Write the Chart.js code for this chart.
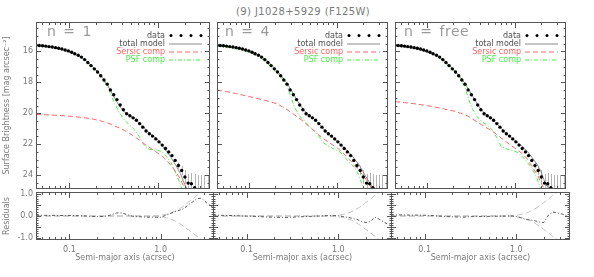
<!DOCTYPE html>
<html>
<head>
<meta charset="utf-8">
<title>J1028+5929 surface brightness profile</title>
<script src="https://cdn.jsdelivr.net/npm/chart.js@4.4.1/dist/chart.umd.min.js"></script>
<style>
  html, body { margin: 0; padding: 0; background: #fff; }
  #page { position: relative; width: 594px; height: 277px; overflow: hidden; font-family: "DejaVu Sans", sans-serif; }
  #page canvas { position: absolute; }
  #title { position: absolute; left: 36px; width: 534px; top: 6px; text-align: center; font-size: 10px; line-height: 12px; color: #7a7a7a; letter-spacing: 0.4px; }
  .tag { position: absolute; top: 24px; font-size: 14px; line-height: 14px; color: #9a9a9a; white-space: pre; letter-spacing: 0.5px; word-spacing: 2px; }
</style>
</head>
<body>
<div id="page">
  <div id="title">(9) J1028+5929 (F125W)</div>
  <canvas id="main1" width="214" height="175" style="left:0;top:18px"></canvas>
  <canvas id="main2" width="179" height="175" style="left:213px;top:18px"></canvas>
  <canvas id="main3" width="179" height="175" style="left:391px;top:18px"></canvas>
  <canvas id="res1" width="214" height="91" style="left:0;top:186px"></canvas>
  <canvas id="res2" width="179" height="91" style="left:213px;top:186px"></canvas>
  <canvas id="res3" width="179" height="91" style="left:391px;top:186px"></canvas>
  <div class="tag" style="left:47px">n = 1</div>
  <div class="tag" style="left:225px">n = 4</div>
  <div class="tag" style="left:404px">n = free</div>
</div>
<script>
// isophote radii (arcsec) and measured surface brightness
const radii = [0.0431, 0.0468, 0.0509, 0.0553, 0.0601, 0.0654, 0.0711, 0.0773, 0.0840, 0.0913,
  0.0993, 0.108, 0.117, 0.128, 0.139, 0.151, 0.164, 0.178, 0.194, 0.211,
  0.229, 0.249, 0.271, 0.294, 0.320, 0.348, 0.378, 0.411, 0.447, 0.486,
  0.528, 0.574, 0.625, 0.679, 0.738, 0.803, 0.873, 0.949, 1.031, 1.121,
  1.219, 1.325, 1.441, 1.566, 1.703, 1.851, 2.013, 2.188, 2.379, 2.587,
  2.812, 3.057, 3.324, 3.614];
const sbData = [15.61, 15.62, 15.64, 15.66, 15.69, 15.72, 15.76, 15.80, 15.85, 15.91,
  15.97, 16.06, 16.15, 16.25, 16.37, 16.53, 16.72, 16.92, 17.13, 17.33,
  17.58, 17.85, 18.12, 18.49, 18.80, 19.12, 19.47, 19.77, 20.03, 20.16,
  20.30, 20.45, 20.67, 20.90, 21.15, 21.33, 21.48, 21.66, 21.85, 22.06,
  22.28, 22.50, 22.74, 23.05, 23.38, 23.70, 24.12, 24.52, 24.56, 24.82,
  25.30, 25.70, 25.90, 26.10];
const sbErr = [0.01, 0.01, 0.01, 0.01, 0.01, 0.01, 0.01, 0.01, 0.01, 0.01,
  0.01, 0.01, 0.01, 0.01, 0.01, 0.01, 0.01, 0.01, 0.01, 0.01,
  0.02, 0.02, 0.02, 0.02, 0.02, 0.02, 0.02, 0.02, 0.02, 0.02,
  0.02, 0.02, 0.02, 0.02, 0.02, 0.02, 0.03, 0.03, 0.04, 0.04,
  0.05, 0.05, 0.06, 0.10, 0.20, 0.30, 0.45, 0.60, 0.70, 0.90,
  1.30, 1.70, 1.90, 2.10];

// radii where the models are sampled
const modelR = [0.043, 0.055, 0.07, 0.09, 0.11, 0.13, 0.155, 0.18, 0.21, 0.24,
  0.27, 0.30, 0.33, 0.37, 0.42, 0.48, 0.55, 0.62, 0.70, 0.80,
  0.90, 1.0, 1.12, 1.25, 1.4, 1.6, 1.8, 2.0, 2.25, 2.5,
  2.8, 3.2, 3.85];

// n = 1
const totalModel1 = [15.64, 15.695, 15.79, 15.93, 16.10, 16.28, 16.57, 16.91, 17.30, 17.70,
  18.14, 18.61, 19.06, 19.52, 19.91, 20.14, 20.34, 20.62, 20.94, 21.27,
  21.49, 21.72, 22.08, 22.45, 22.84, 23.39, 23.92, 24.59, 25.18, 25.54,
  25.92, 26.10, 26.36];
const sersic1 = [20.08, 20.10, 20.13, 20.17, 20.21, 20.25, 20.30, 20.36, 20.44, 20.53,
  20.62, 20.72, 20.83, 20.95, 21.10, 21.30, 21.52, 21.73, 21.97, 22.20,
  22.40, 22.58, 22.78, 23.03, 23.36, 23.80, 24.30, 24.85, 25.50, 26.10,
  26.80, 27.50, 28.50];
const psf1 = [15.63, 15.69, 15.78, 15.92, 16.10, 16.30, 16.62, 16.98, 17.38, 17.80,
  18.20, 18.85, 19.40, 19.95, 20.42, 20.75, 21.08, 21.52, 22.05, 22.34,
  22.38, 22.38, 22.52, 22.80, 23.18, 23.90, 24.65, 25.40, 26.20, 27.00,
  27.80, 28.60, 29.50];
const resid1 = [0.04, 0.03, 0.03, 0.02, 0.02, 0.01, 0.00, -0.02, -0.03, -0.02,
  0.02, 0.08, 0.14, 0.14, 0.08, 0.00, -0.03, -0.04, -0.05, -0.05,
  -0.06, -0.06, 0.02, 0.10, 0.18, 0.26, 0.34, 0.50, 0.65, 0.79,
  0.82, 0.60, 0.36];

// n = 4
const totalModel2 = [15.64, 15.695, 15.78, 15.91, 16.07, 16.25, 16.53, 16.88, 17.27, 17.66,
  18.05, 18.47, 18.87, 19.34, 19.80, 20.12, 20.36, 20.66, 21.00, 21.34,
  21.57, 21.79, 22.04, 22.29, 22.56, 22.97, 23.33, 23.79, 24.28, 24.70,
  24.95, 25.20, 25.52];
const sersic2 = [18.50, 18.60, 18.72, 18.86, 18.98, 19.08, 19.18, 19.28, 19.40, 19.58,
  19.76, 19.94, 20.10, 20.30, 20.55, 20.83, 21.12, 21.38, 21.63, 21.86,
  22.05, 22.22, 22.45, 22.70, 23.00, 23.39, 23.72, 24.02, 24.40, 24.80,
  25.20, 25.60, 26.10];
const psf2 = [15.66, 15.72, 15.82, 15.97, 16.15, 16.36, 16.68, 17.02, 17.40, 17.78,
  18.20, 18.95, 19.60, 20.15, 20.45, 20.80, 21.15, 21.45, 21.90, 22.12,
  22.28, 22.40, 22.55, 22.88, 23.20, 23.50, 24.05, 24.80, 25.60, 26.40,
  27.20, 28.00, 29.00];
const resid2 = [0.04, 0.03, 0.02, 0.00, -0.01, -0.02, -0.04, -0.05, -0.06, -0.06,
  -0.07, -0.06, -0.05, -0.04, -0.03, -0.02, -0.01, 0.00, 0.01, 0.02,
  0.02, 0.01, -0.02, -0.06, -0.10, -0.16, -0.25, -0.30, -0.25, -0.05,
  -0.15, -0.30, -0.48];

// n free
const totalModel3 = [15.65, 15.715, 15.80, 15.95, 16.11, 16.28, 16.56, 16.90, 17.29, 17.67,
  18.07, 18.49, 18.89, 19.36, 19.81, 20.12, 20.36, 20.65, 20.98, 21.32,
  21.55, 21.76, 21.98, 22.20, 22.48, 22.91, 23.30, 23.79, 24.58, 24.93,
  25.24, 25.58, 25.95];
const sersic3 = [19.25, 19.31, 19.38, 19.47, 19.55, 19.63, 19.72, 19.80, 19.88, 20.00,
  20.10, 20.22, 20.38, 20.55, 20.75, 20.95, 21.15, 21.37, 21.60, 21.85,
  22.07, 22.25, 22.45, 22.67, 22.98, 23.50, 23.95, 24.50, 25.10, 25.60,
  26.10, 26.70, 27.40];
const psf3 = [15.64, 15.70, 15.79, 15.94, 16.12, 16.33, 16.65, 17.00, 17.38, 17.75,
  18.30, 19.15, 19.75, 20.20, 20.55, 20.75, 21.05, 21.55, 22.15, 22.30,
  22.40, 22.44, 22.60, 22.87, 23.20, 23.62, 24.25, 24.95, 25.60, 26.30,
  27.00, 27.80, 28.70];
const resid3 = [0.05, 0.05, 0.04, 0.04, 0.03, 0.01, -0.01, -0.03, -0.04, -0.05,
  -0.05, -0.04, -0.03, -0.02, -0.02, -0.02, -0.01, -0.01, -0.01, 0.00,
  0.00, -0.02, -0.08, -0.15, -0.18, -0.22, -0.28, -0.30, 0.05, 0.18,
  0.14, 0.08, -0.05];

// error envelope shown in the residual panels
const envUp = [0.01, 0.01, 0.01, 0.01, 0.01, 0.01, 0.01, 0.01, 0.01, 0.01,
  0.01, 0.01, 0.01, 0.01, 0.01, 0.01, 0.01, 0.01, 0.01, 0.01,
  0.02, 0.03, 0.07, 0.12, 0.20, 0.33, 0.47, 0.62, 0.78, 0.95,
  1.12, 1.30, 1.55];
const envDown = [-0.01, -0.01, -0.01, -0.01, -0.01, -0.01, -0.01, -0.01, -0.01, -0.01,
  -0.01, -0.01, -0.01, -0.01, -0.01, -0.01, -0.01, -0.01, -0.01, -0.01,
  -0.02, -0.03, -0.07, -0.12, -0.20, -0.33, -0.48, -0.62, -0.78, -0.93,
  -1.08, -1.25, -1.50];

// axis ticks
const xTickVals = [0.1, 1];
const xTickLabels = ['0.1', '1.0'];
const xMinor = [0.05, 0.06, 0.07, 0.08, 0.09, 0.2, 0.3, 0.4, 0.5, 0.6, 0.7, 0.8, 0.9, 2, 3];
const sbTicks = [16, 18, 20, 22, 24];
const sbTickLabels = ['16', '18', '20', '22', '24'];
const sbMinor = [14.5, 15, 15.5, 16.5, 17, 17.5, 18.5, 19, 19.5, 20.5, 21, 21.5, 22.5, 23, 23.5, 24.5];
const residTicks = [1, 0.5, 0, -0.5, -1];
const residTickLabels = ['1.0', '0.5', '0.0', '-0.5', '-1.0'];
const residMinor = [0.9, 0.8, 0.7, 0.6, 0.4, 0.3, 0.2, 0.1, -0.1, -0.2, -0.3, -0.4, -0.6, -0.7, -0.8, -0.9];

const X_MIN = 0.043, X_MAX = 3.85;
const TXT = '#7a7a7a';
const FRAME = '#555555';

Chart.defaults.font.family = '"DejaVu Sans", sans-serif';
Chart.defaults.font.size = 8;
Chart.defaults.color = TXT;

const pts = (xs, ys) => xs.map((x, i) => ({x: x, y: ys[i]}));

// IDL-like box with inward ticks on all four sides
const idlFrame = {
  id: 'idlFrame',
  afterDatasetsDraw(chart, args, o) {
    const {ctx, chartArea: a, scales: {x, y}} = chart;
    ctx.save();
    ctx.strokeStyle = FRAME;
    ctx.lineWidth = 1;
    ctx.strokeRect(a.left + 0.5, a.top + 0.5, a.width - 1, a.height - 1);
    ctx.beginPath();
    const xt = (vals, len) => vals.forEach(v => {
      const p = Math.round(x.getPixelForValue(v)) + 0.5;
      if (p < a.left || p > a.right) return;
      ctx.moveTo(p, a.bottom); ctx.lineTo(p, a.bottom - len);
      ctx.moveTo(p, a.top); ctx.lineTo(p, a.top + len);
    });
    const yt = (vals, len) => vals.forEach(v => {
      const p = Math.round(y.getPixelForValue(v)) + 0.5;
      ctx.moveTo(a.left, p); ctx.lineTo(a.left + len, p);
      ctx.moveTo(a.right, p); ctx.lineTo(a.right - len, p);
    });
    xt(xTickVals, 6); xt(xMinor, 3);
    yt(o.yMajor, 5); yt(o.yMinor, 2.5);
    ctx.stroke();
    ctx.restore();
  }
};

// vertical error bars on the data points
const errorBars = {
  id: 'errorBars',
  beforeDatasetsDraw(chart, args, o) {
    if (!o.err) return;
    const {ctx, chartArea: a, scales: {x, y}} = chart;
    const pts = chart.data.datasets[0].data;
    ctx.save();
    ctx.beginPath();
    ctx.rect(a.left, a.top, a.width, a.height);
    ctx.clip();
    ctx.strokeStyle = '#b4b4b4';
    ctx.lineWidth = 1;
    ctx.beginPath();
    pts.forEach((p, i) => {
      const px = Math.round(x.getPixelForValue(p.x)) + 0.5;
      ctx.moveTo(px, y.getPixelForValue(p.y - o.err[i]));
      ctx.lineTo(px, y.getPixelForValue(p.y + o.err[i]));
    });
    ctx.stroke();
    ctx.restore();
  }
};

// legend in the top right corner of each profile panel
const panelLegend = {
  id: 'panelLegend',
  afterDraw(chart, args, o) {
    if (!o.show) return;
    const {ctx, chartArea: a} = chart;
    ctx.save();
    ctx.font = '8px "DejaVu Sans", sans-serif';
    ctx.textAlign = 'right';
    ctx.textBaseline = 'middle';
    chart.data.datasets.forEach((ds, i) => {
      const yy = a.top + 13.5 + i * 8;
      const x0 = a.right - 41, x1 = a.right - 8;
      ctx.fillStyle = ds.legendColor || ds.borderColor;
      ctx.fillText(ds.label, a.right - 45, yy);
      if (ds.showLine === false) {
        ctx.fillStyle = ds.backgroundColor;
        for (let k = 0; k < 4; k++) {
          ctx.beginPath();
          ctx.arc(x0 + 2 + k * 10, yy, 1.5, 0, Math.PI * 2);
          ctx.fill();
        }
      } else {
        ctx.strokeStyle = ds.borderColor;
        ctx.lineWidth = 1;
        ctx.setLineDash(ds.borderDash || []);
        ctx.beginPath();
        ctx.moveTo(x0, yy + 0.5);
        ctx.lineTo(x1, yy + 0.5);
        ctx.stroke();
      }
    });
    ctx.restore();
  }
};

function xScale(show) {
  return {
    type: 'logarithmic', min: X_MIN, max: X_MAX, display: show,
    grid: {display: false, drawTicks: false}, border: {display: false},
    afterBuildTicks: s => { s.ticks = xTickVals.map(v => ({value: v})); },
    afterFit: s => {
      s.paddingLeft = 0; s.paddingRight = 0;
      s.height = show ? 37 : 0;
    },
    ticks: {autoSkip: false, maxRotation: 0, padding: 5, callback: (v, i) => xTickLabels[i]},
    title: {display: show, text: 'Semi-major axis (acrsec)', padding: {top: 0, bottom: 14}}
  };
}

function yScale(show, min, max, reverse, vals, labels, title) {
  return {
    min: min, max: max, reverse: reverse, display: show,
    grid: {display: false, drawTicks: false}, border: {display: false},
    afterBuildTicks: s => { s.ticks = vals.map(v => ({value: v})); },
    afterFit: s => {
      s.width = show ? 36 : 0;
      s.paddingTop = 0; s.paddingBottom = 0;
    },
    ticks: {padding: 3, callback: (v, i) => labels[i]},
    title: {display: show, text: title, padding: {top: 2, bottom: 0}}
  };
}

function profileChart(id, model, sersic, psf, withAxis) {
  return new Chart(document.getElementById(id), {
    type: 'scatter',
    data: {
      datasets: [
        {label: 'data', data: pts(radii, sbData), showLine: false, pointRadius: 1.7,
          backgroundColor: '#000', borderColor: '#000', borderWidth: 0, legendColor: '#505050'},
        {label: 'total model', data: pts(modelR, model), showLine: true, pointRadius: 0,
          borderColor: '#8c8c8c', borderWidth: 1, legendColor: '#505050'},
        {label: 'Sersic comp', data: pts(modelR, sersic), showLine: true, pointRadius: 0,
          borderColor: '#ff6464', borderWidth: 1, borderDash: [5, 3]},
        {label: 'PSF comp', data: pts(modelR, psf), showLine: true, pointRadius: 0,
          borderColor: '#44ee44', borderWidth: 1, borderDash: [4, 2, 1, 2]}
      ]
    },
    options: {
      responsive: false, animation: false, events: [], devicePixelRatio: 1,
      layout: {padding: 0},
      plugins: {
        legend: {display: false}, tooltip: {enabled: false},
        idlFrame: {yMajor: sbTicks, yMinor: sbMinor},
        errorBars: {err: sbErr},
        panelLegend: {show: true}
      },
      scales: {
        x: xScale(false),
        y: yScale(withAxis, 14.1, 24.9, true, sbTicks, sbTickLabels, 'Surface Brightness [mag arcsec\u207B\u00B2]')
      }
    },
    plugins: [errorBars, idlFrame, panelLegend]
  });
}

function residualChart(id, resid, withAxis) {
  return new Chart(document.getElementById(id), {
    type: 'scatter',
    data: {
      datasets: [
        {label: 'residual', data: pts(modelR, resid), showLine: true, pointRadius: 0,
          borderColor: '#555555', borderWidth: 1, borderDash: [3, 2, 1, 2]},
        {label: 'upper error', data: pts(modelR, envUp), showLine: true, pointRadius: 0,
          borderColor: '#c4c4c4', borderWidth: 1, borderDash: [6, 3]},
        {label: 'lower error', data: pts(modelR, envDown), showLine: true, pointRadius: 0,
          borderColor: '#c4c4c4', borderWidth: 1, borderDash: [6, 3]}
      ]
    },
    options: {
      responsive: false, animation: false, events: [], devicePixelRatio: 1,
      layout: {padding: {top: 6}},
      plugins: {
        legend: {display: false}, tooltip: {enabled: false},
        idlFrame: {yMajor: residTicks, yMinor: residMinor},
        errorBars: {}, panelLegend: {show: false}
      },
      scales: {
        x: xScale(true),
        y: yScale(withAxis, -1.1, 1.1, false, residTicks, residTickLabels, 'Residuals')
      }
    },
    plugins: [idlFrame]
  });
}

profileChart('main1', totalModel1, sersic1, psf1, true);
profileChart('main2', totalModel2, sersic2, psf2, false);
profileChart('main3', totalModel3, sersic3, psf3, false);
residualChart('res1', resid1, true);
residualChart('res2', resid2, false);
residualChart('res3', resid3, false);
</script>
</body>
</html>
